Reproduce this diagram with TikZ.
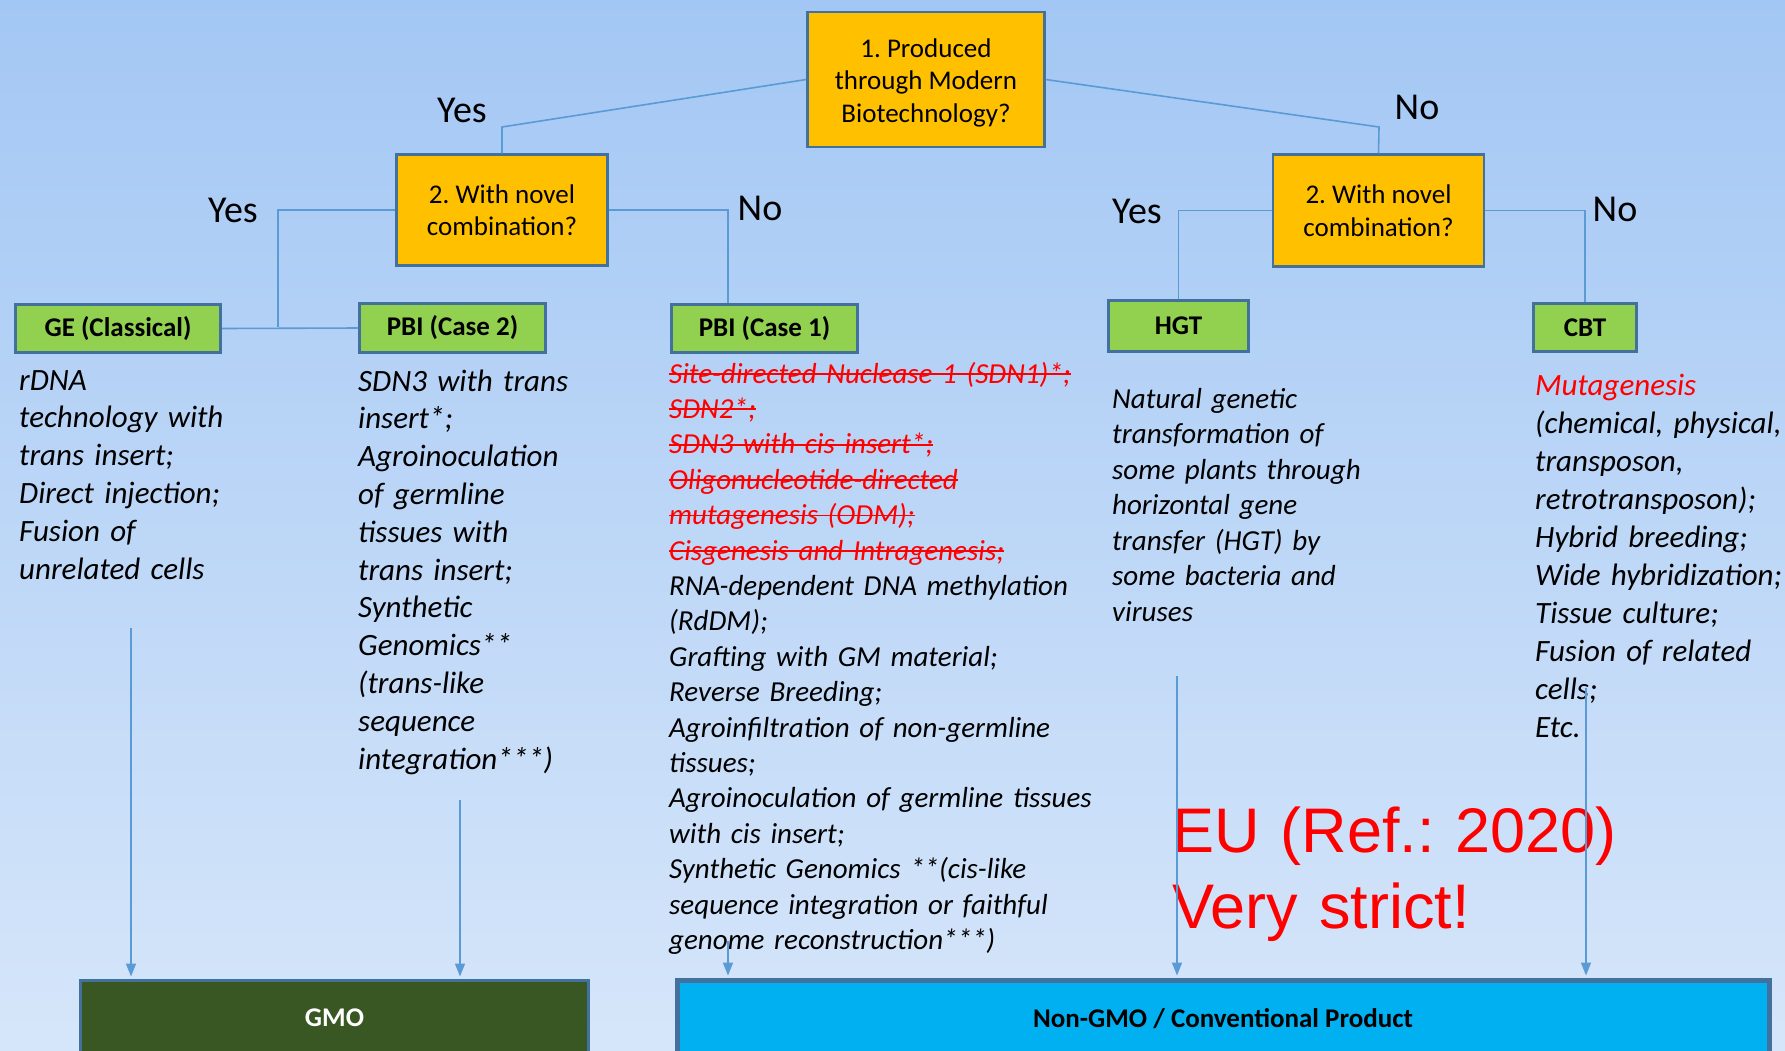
\documentclass[tikz,border=0pt]{standalone}
\usepackage{fontspec}
\setmainfont{Carlito}
\newfontfamily\arialfont{Liberation Sans}
\usetikzlibrary{arrows.meta}

\definecolor{bgtop}{HTML}{A3C7F4}
\definecolor{bgbot}{HTML}{D6E6FA}
\definecolor{qorange}{HTML}{FFC000}
\definecolor{mgreen}{HTML}{92D050}
\definecolor{boxline}{HTML}{41719C}
\definecolor{linkblue}{HTML}{5B9BD5}
\definecolor{gmogreen}{HTML}{385723}
\definecolor{ngcyan}{HTML}{00B0F0}

% red text with a line through it
\newsavebox{\strikebox}
\newcommand{\struck}[1]{\sbox{\strikebox}{\color{red}#1}\textcolor{red}{\rlap{\usebox{\strikebox}}\rule[0.28em]{\wd\strikebox}{1.8pt}}}

\frenchspacing

\begin{document}
\begin{tikzpicture}[x=1pt, y=-1pt,
    every node/.style={font=\fontsize{27}{32.5}\selectfont},
    question/.style={draw=boxline, fill=qorange, line width=2.5pt, align=center, inner sep=0pt},
    method/.style={draw=boxline, fill=mgreen, line width=2.5pt, inner sep=0pt, font=\bfseries\fontsize{27}{31}\selectfont},
    answer/.style={inner sep=0pt, font=\fontsize{38}{44}\selectfont},
    details/.style={anchor=base west, inner sep=0pt, align=left, font=\itshape\fontsize{31}{37.8}\selectfont},
    outcome/.style={draw=boxline, line width=3pt, inner sep=0pt, minimum height=76pt, font=\bfseries\fontsize{27}{31}\selectfont},
    link/.style={draw=linkblue, line width=1.6pt},
    flow/.style={link, -{Triangle[length=13pt, width=10pt]}, shorten >=2pt}]

        % Background
        \useasboundingbox (0,0) rectangle (1785,1050);
        \clip (0,0) rectangle (1785,1050);
        \shade[top color=bgtop, bottom color=bgbot] (0,0) rectangle (1785,1050);

        % Questions
        \node[question, minimum width=237pt, minimum height=135pt] (Q1) at (926,79.5) {\rule{0pt}{25pt}1. Produced\\through Modern\\Biotechnology?};
        \node[question, minimum width=211pt, minimum height=111pt] (Q2L) at (502,210) {2. With novel\\combination?};
        \node[question, minimum width=211pt, minimum height=112pt] (Q2R) at (1378.5,210.5) {2. With novel\\combination?};

        % Answers
        \node[answer] (yes1) at (462,110) {Yes};
        \node[answer] (no1) at (1417,107) {No};
        \node[answer] (yes2) at (233,210) {Yes};
        \node[answer] (no2) at (760,208) {No};
        \node[answer] (yes3) at (1137,211) {Yes};
        \node[answer] (no3) at (1615,209) {No};

        % Techniques
        \node[method, minimum width=205pt, minimum height=48pt] (GE) at (118,328.5) {GE (Classical)};
        \node[method, minimum width=186pt, minimum height=49pt] (PBI2) at (452.5,328) {PBI (Case 2)};
        \node[method, minimum width=186pt, minimum height=48pt] (PBI1) at (764.5,328.5) {PBI (Case 1)};
        \node[method, minimum width=140pt, minimum height=51pt] (HGT) at (1178.5,326) {HGT};
        \node[method, minimum width=103pt, minimum height=48pt] (CBT) at (1585,327.5) {CBT};

        % Examples under each technique
        \node[details, text width=230pt] (GEtext) at (19,390) {rDNA\\technology with\\trans insert;\\Direct injection;\\Fusion of\\unrelated cells};
        \node[details, text width=250pt] (PBI2text) at (358,391) {SDN3 with trans\\insert*;\\Agroinoculation\\of germline\\tissues with\\trans insert;\\Synthetic\\Genomics**\\(trans-like\\sequence\\integration***)};
        \node[details, text width=440pt, font=\itshape\fontsize{29}{35.4}\selectfont] (PBI1text) at (669,383) {\struck{Site-directed Nuclease 1 (SDN1)*;}\\\struck{SDN2*;}\\\struck{SDN3 with cis insert*;}\\\struck{Oligonucleotide-directed}\\\struck{mutagenesis (ODM);}\\\struck{Cisgenesis and Intragenesis;}\\RNA-dependent DNA methylation\\(RdDM);\\Grafting with GM material;\\Reverse Breeding;\\Agroinfiltration of non-germline\\tissues;\\Agroinoculation of germline tissues\\with cis insert;\\Synthetic Genomics **(cis-like\\sequence integration or faithful\\genome reconstruction***)};
        \node[details, text width=280pt, font=\itshape\fontsize{29}{35.5}\selectfont] (HGTtext) at (1112,408) {Natural genetic\\transformation of\\some plants through\\horizontal gene\\transfer (HGT) by\\some bacteria and\\viruses};
        \node[details, text width=300pt, font=\itshape\fontsize{31}{38}\selectfont] (CBTtext) at (1535,395) {\textcolor{red}{Mutagenesis}\\(chemical, physical,\\transposon,\\retrotransposon);\\Hybrid breeding;\\Wide hybridization;\\Tissue culture;\\Fusion of related\\cells;\\Etc.};

        % Note
        \node[anchor=base west, inner sep=0pt, align=left, text width=470pt, text=red, font=\arialfont\fontsize{63}{76}\selectfont] (EU) at (1172,852) {EU (Ref.: 2020)\\Very strict!};

        % Outcomes
        \node[outcome, fill=gmogreen, text=white, minimum width=508pt] (GMO) at (334.5,1018) {GMO};
        \node[outcome, fill=ngcyan, line width=5pt, minimum width=1092pt, minimum height=78pt] (NGMO) at (1223,1019) {Non-GMO / Conventional Product};

        % Decision lines
        \coordinate (kneeL) at (502,127);
        \coordinate (kneeR) at (1379,127);
        \coordinate (fork) at (278,327);
        \draw[link] (Q1.west) -- (kneeL) -- (Q2L.north);
        \draw[link] (Q1.east) -- (kneeR) -- (Q2R.north);
        \draw[link] (Q2L.west) -| (fork);
        \draw[link] (GE.east) -- (PBI2.west);
        \draw[link] (Q2L.east) -| ([xshift=-36.5pt]PBI1.north);
        \draw[link] (Q2R.west) -| (HGT.north);
        \draw[link] (Q2R.east) -| (CBT.north);

        % Arrows to outcomes
        \coordinate (geout) at (131,628);
        \coordinate (pbi2out) at (460,800);
        \coordinate (pbi1out) at (728,941);
        \coordinate (hgtout) at (1177,676);
        \coordinate (cbtout) at (1586,688);
        \draw[flow] (geout) -- (geout |- GMO.north);
        \draw[flow] (pbi2out) -- (pbi2out |- GMO.north);
        \draw[flow] (pbi1out) -- (pbi1out |- NGMO.north);
        \draw[flow] (hgtout) -- (hgtout |- NGMO.north);
        \draw[flow] (cbtout) -- (cbtout |- NGMO.north);
\end{tikzpicture}
\end{document}
